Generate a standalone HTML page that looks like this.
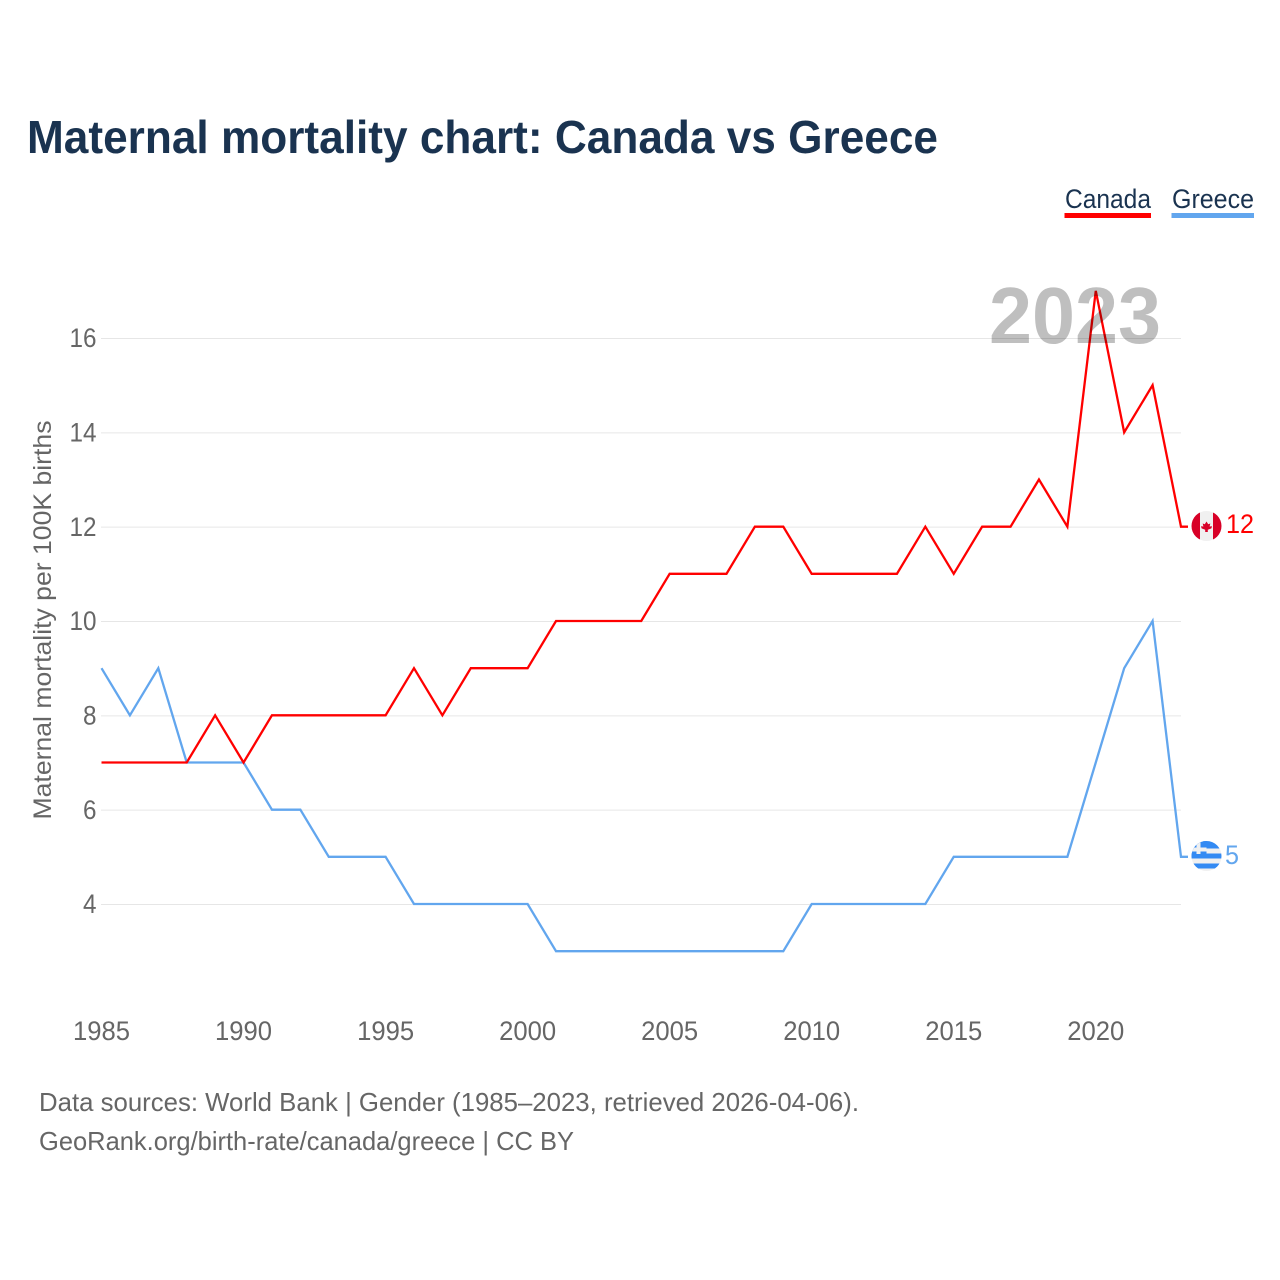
<!DOCTYPE html>
<html>
<head>
<meta charset="utf-8">
<title>Maternal mortality chart: Canada vs Greece</title>
<style>
html,body{margin:0;padding:0;background:#fff}
svg{display:block}
text{font-family:"Liberation Sans",sans-serif}
</style>
</head>
<body>
<svg id="chart" xmlns="http://www.w3.org/2000/svg" width="1280" height="1280" viewBox="0 0 1280 1280">
  <rect x="0" y="0" width="1280" height="1280" fill="#ffffff"/>
  <text x="27" y="153" font-size="46" font-weight="700" fill="#1a3350" textLength="911" lengthAdjust="spacingAndGlyphs">Maternal mortality chart: Canada vs Greece</text>
  <g id="grid"></g>
  <g id="yticks"></g>
  <g id="xticks"></g>
  <text transform="translate(51 620) rotate(-90)" text-anchor="middle" font-size="25" fill="#666666" textLength="399" lengthAdjust="spacingAndGlyphs">Maternal mortality per 100K births</text>
  <g id="series"></g>
  <text x="989" y="343" font-size="80" font-weight="700" fill="#000000" fill-opacity="0.25" textLength="172" lengthAdjust="spacingAndGlyphs">2023</text>

  <g>
    <text x="1065" y="208" font-size="27" fill="#1a3350" textLength="86" lengthAdjust="spacingAndGlyphs">Canada</text>
    <rect x="1064.5" y="213" width="86.5" height="5" fill="#ff0000"/>
  </g>
  <g>
    <text x="1172" y="208" font-size="27" fill="#1a3350" textLength="82" lengthAdjust="spacingAndGlyphs">Greece</text>
    <rect x="1171.5" y="213" width="82.5" height="5" fill="#62a6ee"/>
  </g>

  <defs>
    <clipPath id="clip-ca"><circle cx="1206.5" cy="526" r="15"/></clipPath>
    <clipPath id="clip-gr"><circle cx="1206.5" cy="856" r="15"/></clipPath>
  </defs>
  <g clip-path="url(#clip-ca)">
    <rect x="1191" y="511" width="31" height="30" fill="#f0f0f0"/>
    <rect x="1191" y="511" width="9" height="30" fill="#d80027"/>
    <rect x="1213" y="511" width="9" height="30" fill="#d80027"/>
    <path d="M1206.5 521.5l1.7 2.7 2.1-.7-.7 3 2.4-.3-.6 2.2-3.6 1.4v2.2h-2.6v-2.2l-3.6-1.4-.6-2.2 2.4.3-.7-3 2.1.7z" fill="#d80027"/>
  </g>
  <g clip-path="url(#clip-gr)">
    <rect x="1191" y="841" width="31" height="30" fill="#f0f0f0"/>
    <rect x="1191" y="841" width="31" height="7.5" fill="#338af3"/>
    <rect x="1191" y="853.5" width="31" height="5" fill="#338af3"/>
    <rect x="1191" y="863.5" width="31" height="5" fill="#338af3"/>
    <rect x="1191" y="841" width="15.5" height="17.5" fill="#338af3"/>
    <rect x="1196.5" y="842.5" width="4" height="11.5" fill="#f0f0f0"/>
    <rect x="1191" y="847.5" width="15.5" height="4" fill="#f0f0f0"/>
  </g>
  <text x="1226" y="533" font-size="26.5" fill="#ff0000" textLength="28" lengthAdjust="spacingAndGlyphs">12</text>
  <text x="1225" y="864" font-size="26.5" fill="#62a6ee" textLength="14" lengthAdjust="spacingAndGlyphs">5</text>

  <text x="39" y="1111" font-size="26" fill="#666666" textLength="820" lengthAdjust="spacingAndGlyphs">Data sources: World Bank | Gender (1985–2023, retrieved 2026-04-06).</text>
  <text x="39" y="1150" font-size="26" fill="#666666" textLength="535" lengthAdjust="spacingAndGlyphs">GeoRank.org/birth-rate/canada/greece | CC BY</text>
</svg>
<script>
const years = [1985,1986,1987,1988,1989,1990,1991,1992,1993,1994,1995,1996,1997,1998,1999,2000,2001,2002,2003,2004,2005,2006,2007,2008,2009,2010,2011,2012,2013,2014,2015,2016,2017,2018,2019,2020,2021,2022,2023];
const canadaValues = [7,7,7,7,8,7,8,8,8,8,8,9,8,9,9,9,10,10,10,10,11,11,11,12,12,11,11,11,11,12,11,12,12,13,12,17,14,15,12];
const greeceValues = [9,8,9,7,7,7,6,6,5,5,5,4,4,4,4,4,3,3,3,3,3,3,3,3,3,4,4,4,4,4,5,5,5,5,5,7,9,10,5];
const yTickValues = [4,6,8,10,12,14,16];
const xTickValues = [1985,1990,1995,2000,2005,2010,2015,2020];

const SVGNS = 'http://www.w3.org/2000/svg';
function xScale(year){ return 101.5 + (year - 1985) * (1181 - 101.5) / 38; }
function yScale(v){ return 904.5 - (v - 4) * (904.5 - 338.5) / 12; }

const gridGroup = document.getElementById('grid');
const yGroup = document.getElementById('yticks');
const xGroup = document.getElementById('xticks');
const seriesGroup = document.getElementById('series');

yTickValues.forEach(function(v){
  const line = document.createElementNS(SVGNS, 'line');
  
  
  line.setAttribute('x1', 101);
  line.setAttribute('x2', 1181);
  line.setAttribute('y1', yScale(v));
  line.setAttribute('y2', yScale(v));
  line.setAttribute('stroke', '#e6e6e6');
  line.setAttribute('stroke-width', '1');
  gridGroup.appendChild(line);

  const label = document.createElementNS(SVGNS, 'text');
  
  
  label.setAttribute('x', 96.5);
  label.setAttribute('y', yScale(v) + 8.7);
  label.setAttribute('text-anchor', 'end');
  label.setAttribute('font-size', '26.5');
  label.setAttribute('fill', '#666666');
  label.setAttribute('textLength', String(v).length * 13.5);
  label.setAttribute('lengthAdjust', 'spacingAndGlyphs');
  label.textContent = String(v);
  yGroup.appendChild(label);
});

xTickValues.forEach(function(y){
  const label = document.createElementNS(SVGNS, 'text');
  
  
  label.setAttribute('x', xScale(y));
  label.setAttribute('y', 1040);
  label.setAttribute('text-anchor', 'middle');
  label.setAttribute('font-size', '26.5');
  label.setAttribute('fill', '#666666');
  label.setAttribute('textLength', '57');
  label.setAttribute('lengthAdjust', 'spacingAndGlyphs');
  label.textContent = String(y);
  xGroup.appendChild(label);
});

function drawSeries(values, color, name){
  const pts = values.map(function(v, i){ return xScale(years[i]) + ',' + (yScale(v) - 0.5); });
  const last = values[values.length - 1];
  pts.push((xScale(years[years.length - 1]) + 7) + ',' + (yScale(last) - 0.5));
  const line = document.createElementNS(SVGNS, 'polyline');
  
  
  line.setAttribute('points', pts.join(' '));
  line.setAttribute('fill', 'none');
  line.setAttribute('stroke', color);
  line.setAttribute('stroke-width', '2.3');
  line.setAttribute('stroke-linejoin', 'miter');
  seriesGroup.appendChild(line);
}
drawSeries(greeceValues, '#62a6ee', 'greece-line');
drawSeries(canadaValues, '#ff0000', 'canada-line');
</script>
</body>
</html>
